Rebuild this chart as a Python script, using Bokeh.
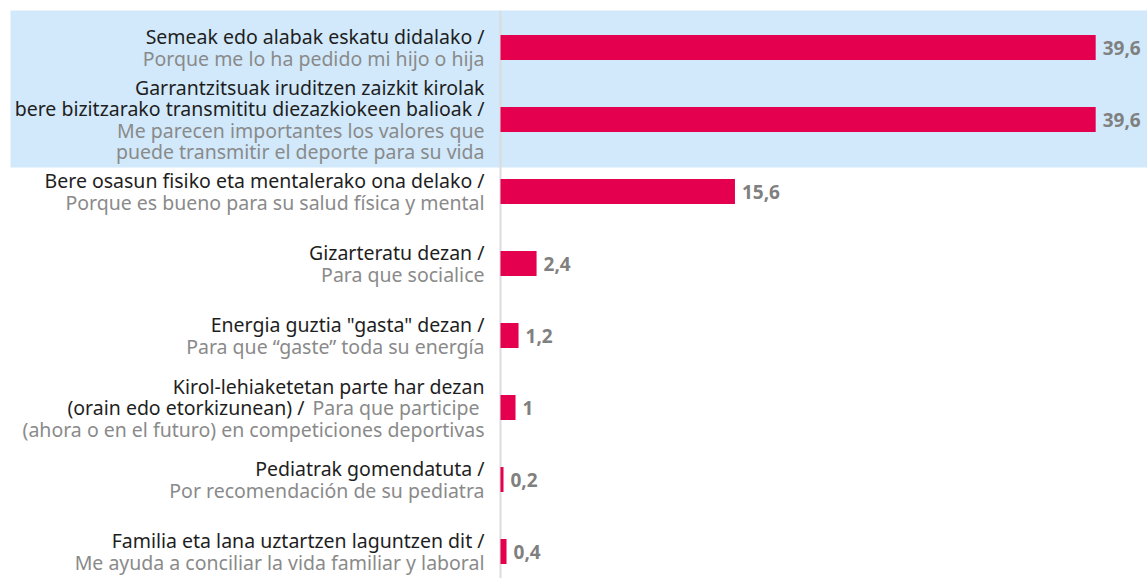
from bokeh.plotting import figure
from bokeh.models import ColumnDataSource, Range1d
from bokeh.core.properties import value
from bokeh.embed import file_html
from bokeh.resources import INLINE

# ---- data ----
basque = [
    "Semeak edo alabak eskatu didalako /",
    "Garrantzitsuak iruditzen zaizkit kirolak\nbere bizitzarako transmititu diezazkiokeen balioak /",
    "Bere osasun fisiko eta mentalerako ona delako /",
    "Gizarteratu dezan /",
    'Energia guztia "gasta" dezan /',
    "Kirol-lehiaketetan parte har dezan\n(orain edo etorkizunean) /",
    "Pediatrak gomendatuta /",
    "Familia eta lana uztartzen laguntzen dit /",
]
spanish = [
    "Porque me lo ha pedido mi hijo o hija",
    "Me parecen importantes los valores que\npuede transmitir el deporte para su vida",
    "Porque es bueno para su salud física y mental",
    "Para que socialice",
    "Para que “gaste” toda su energía",
    "Para que participe\n(ahora o en el futuro) en competiciones deportivas",
    "Por recomendación de su pediatra",
    "Me ayuda a conciliar la vida familiar y laboral",
]
shared_line = [False, False, False, False, False, True, False, False]
values = [39.6, 39.6, 15.6, 2.4, 1.2, 1.0, 0.2, 0.4]
highlighted = [0, 1]

FONT = "Noto Sans"
FS = "19.5px"
BLACK = "#1e1e1e"
GRAY = "#8a8a8a"
BAR = "#e4004f"

W, H = 1147, 578
SCALE_X = 15.03   # px per unit
ROW_PX = 72.0
x0 = -500 / SCALE_X
x1 = x0 + W / SCALE_X
y_top = -47 / ROW_PX
y_bot = y_top + H / ROW_PX

p = figure(width=W, height=H, output_backend="svg", toolbar_location=None,
           x_range=Range1d(x0, x1), y_range=Range1d(y_bot, y_top),
           min_border=0, outline_line_color=None)
p.axis.visible = False
p.grid.visible = False

n = len(values)
ys = list(range(n))

# highlight band
hl_top = min(highlighted) - 37 / ROW_PX
hl_bot = max(highlighted) + 48 / ROW_PX
p.quad(left=[-490 / SCALE_X], right=[x1], top=[hl_top], bottom=[hl_bot],
       fill_color="#d1e9fb", line_color=None)

# axis line
p.segment(x0=[0], x1=[0], y0=[hl_top], y1=[y_bot], line_color="#dcdcdc", line_width=2)

# bars
src = ColumnDataSource(dict(y=ys, v=values,
                            lbl=[("%g" % v).replace(".", ",") for v in values]))
p.hbar(y="y", left=0, right="v", height=25 / ROW_PX, source=src,
       fill_color=BAR, line_color=None)
p.text(x="v", y="y", text="lbl", source=src, x_offset=7, text_align="left",
       text_baseline="middle", text_font=value(FONT), text_font_size="19px",
       text_font_style="bold", text_color="#808080")

# category labels
LINE = 21.5 / ROW_PX
tx, ty, tt, tc, toff = [], [], [], [], []
for i in range(n):
    bl = basque[i].split("\n")
    sl = spanish[i].split("\n")
    lines = []
    if shared_line[i]:
        for t in bl[:-1]:
            lines.append([(t, BLACK)])
        lines.append([(bl[-1], BLACK), (sl[0], GRAY)])
        for t in sl[1:]:
            lines.append([(t, GRAY)])
    else:
        for t in bl:
            lines.append([(t, BLACK)])
        for t in sl:
            lines.append([(t, GRAY)])
    m = len(lines)
    for j, parts in enumerate(lines):
        yy = i + (j - (m - 1) / 2) * LINE
        if len(parts) == 1:
            tx.append(0); ty.append(yy); tt.append(parts[0][0]); tc.append(parts[0][1]); toff.append(-16)
        else:
            tx.append(0); ty.append(yy); tt.append(parts[1][0]); tc.append(parts[1][1]); toff.append(-21)
            tx.append(0); ty.append(yy); tt.append(parts[0][0]); tc.append(parts[0][1]); toff.append(-196)

lsrc = ColumnDataSource(dict(x=tx, y=ty, t=tt, c=tc, o=toff))
p.text(x="x", y="y", text="t", text_color="c", x_offset="o", source=lsrc,
       text_align="right", text_baseline="middle", text_font=value(FONT),
       text_font_size=FS)

open("out.html", "w").write(file_html(p, INLINE))
